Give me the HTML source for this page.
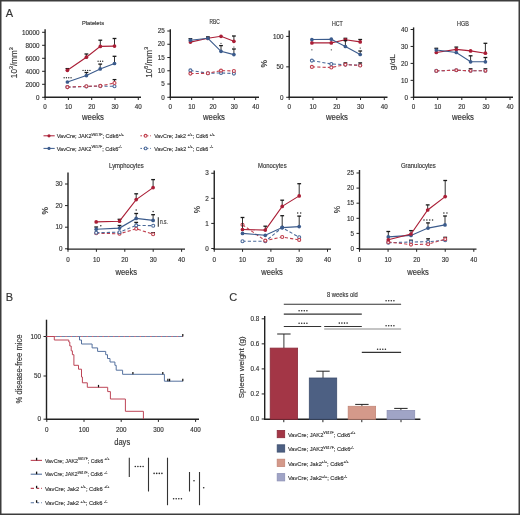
<!DOCTYPE html>
<html><head><meta charset="utf-8"><style>
html,body{margin:0;padding:0;background:#fff;}
svg{display:block;font-family:"Liberation Sans", sans-serif;}
text{stroke:#333;stroke-width:0.15px;paint-order:stroke;}
</style></head><body>
<svg width="520" height="515" viewBox="0 0 520 515" style="will-change:transform">
<rect x="0" y="0" width="520" height="515" fill="#fff"/>
<rect x="0.75" y="0.75" width="518.5" height="513.5" fill="none" stroke="#3c3c3c" stroke-width="1.5"/>
<line x1="45.1" y1="29.3" x2="45.1" y2="98.0" stroke="#222" stroke-width="1.4" />
<line x1="44.4" y1="97.3" x2="141" y2="97.3" stroke="#222" stroke-width="1.4" />
<line x1="42.1" y1="97.3" x2="45.1" y2="97.3" stroke="#222" stroke-width="1.0" />
<text x="39.5" y="99.5" font-size="6.3" text-anchor="end" fill="#333"  >0</text>
<line x1="42.1" y1="84.3" x2="45.1" y2="84.3" stroke="#222" stroke-width="1.0" />
<text x="39.5" y="86.5" font-size="6.3" text-anchor="end" fill="#333"  >2000</text>
<line x1="42.1" y1="71.3" x2="45.1" y2="71.3" stroke="#222" stroke-width="1.0" />
<text x="39.5" y="73.5" font-size="6.3" text-anchor="end" fill="#333"  >4000</text>
<line x1="42.1" y1="58.3" x2="45.1" y2="58.3" stroke="#222" stroke-width="1.0" />
<text x="39.5" y="60.5" font-size="6.3" text-anchor="end" fill="#333"  >6000</text>
<line x1="42.1" y1="45.3" x2="45.1" y2="45.3" stroke="#222" stroke-width="1.0" />
<text x="39.5" y="47.5" font-size="6.3" text-anchor="end" fill="#333"  >8000</text>
<line x1="42.1" y1="32.3" x2="45.1" y2="32.3" stroke="#222" stroke-width="1.0" />
<text x="39.5" y="34.5" font-size="6.3" text-anchor="end" fill="#333"  >10000</text>
<line x1="45.1" y1="97.3" x2="45.1" y2="100.0" stroke="#222" stroke-width="1.0" />
<text x="45.1" y="108.8" font-size="6.3" text-anchor="middle" fill="#333"  >0</text>
<line x1="68.4" y1="97.3" x2="68.4" y2="100.0" stroke="#222" stroke-width="1.0" />
<text x="68.4" y="108.8" font-size="6.3" text-anchor="middle" fill="#333"  >10</text>
<line x1="91.7" y1="97.3" x2="91.7" y2="100.0" stroke="#222" stroke-width="1.0" />
<text x="91.7" y="108.8" font-size="6.3" text-anchor="middle" fill="#333"  >20</text>
<line x1="115.0" y1="97.3" x2="115.0" y2="100.0" stroke="#222" stroke-width="1.0" />
<text x="115.0" y="108.8" font-size="6.3" text-anchor="middle" fill="#333"  >30</text>
<line x1="138.3" y1="97.3" x2="138.3" y2="100.0" stroke="#222" stroke-width="1.0" />
<text x="138.3" y="108.8" font-size="6.3" text-anchor="middle" fill="#333"  >40</text>
<text x="93" y="24.5" font-size="6.1" text-anchor="middle" fill="#333" textLength="22" lengthAdjust="spacingAndGlyphs" >Platelets</text>
<text x="93.0" y="120.2" font-size="8.3" text-anchor="middle" fill="#333" textLength="22.0" lengthAdjust="spacingAndGlyphs" >weeks</text>
<text x="16.7" y="62.7" font-size="8.6" text-anchor="middle" fill="#333" textLength="30.9" lengthAdjust="spacingAndGlyphs" transform="rotate(-90 16.7 62.7)">10<tspan dy="-3.3" font-size="5.6">3</tspan><tspan dy="3.3">/mm</tspan><tspan dy="-3.3" font-size="5.6">3</tspan></text>
<path d="M67.4,87.1 L86.4,86.5 L100.3,86.1 L114.5,86.3" fill="none" stroke="#4b6a9a" stroke-width="1.1" stroke-dasharray="3.2,2.1"/>
<circle cx="67.4" cy="87.1" r="1.5" fill="#fff" stroke="#4b6a9a" stroke-width="1.1"/>
<circle cx="86.4" cy="86.5" r="1.5" fill="#fff" stroke="#4b6a9a" stroke-width="1.1"/>
<circle cx="100.3" cy="86.1" r="1.5" fill="#fff" stroke="#4b6a9a" stroke-width="1.1"/>
<circle cx="114.5" cy="86.3" r="1.5" fill="#fff" stroke="#4b6a9a" stroke-width="1.1"/>
<line x1="114.5" y1="83.0" x2="114.5" y2="79.6" stroke="#1a1a1a" stroke-width="0.9" />
<line x1="112.6" y1="79.6" x2="116.4" y2="79.6" stroke="#1a1a1a" stroke-width="1.3" />
<path d="M67.4,87.1 L86.4,86.3 L100.3,85.9 L114.5,83.0" fill="none" stroke="#c0414f" stroke-width="1.1" stroke-dasharray="3.2,2.1"/>
<circle cx="67.4" cy="87.1" r="1.5" fill="#fff" stroke="#c0414f" stroke-width="1.1"/>
<circle cx="86.4" cy="86.3" r="1.5" fill="#fff" stroke="#c0414f" stroke-width="1.1"/>
<circle cx="100.3" cy="85.9" r="1.5" fill="#fff" stroke="#c0414f" stroke-width="1.1"/>
<circle cx="114.5" cy="83.0" r="1.5" fill="#fff" stroke="#c0414f" stroke-width="1.1"/>
<line x1="86.4" y1="75.6" x2="86.4" y2="72.5" stroke="#1a1a1a" stroke-width="0.9" />
<line x1="84.5" y1="72.5" x2="88.30000000000001" y2="72.5" stroke="#1a1a1a" stroke-width="1.3" />
<line x1="100.2" y1="68.9" x2="100.2" y2="64.1" stroke="#1a1a1a" stroke-width="0.9" />
<line x1="98.3" y1="64.1" x2="102.10000000000001" y2="64.1" stroke="#1a1a1a" stroke-width="1.3" />
<line x1="114.5" y1="63.5" x2="114.5" y2="56.3" stroke="#1a1a1a" stroke-width="0.9" />
<line x1="112.6" y1="56.3" x2="116.4" y2="56.3" stroke="#1a1a1a" stroke-width="1.3" />
<path d="M67.4,82 L86.4,75.6 L100.2,68.9 L114.5,63.5" fill="none" stroke="#3b5b8c" stroke-width="1.1" />
<circle cx="67.4" cy="82" r="1.85" fill="#3b5b8c"/>
<circle cx="86.4" cy="75.6" r="1.85" fill="#3b5b8c"/>
<circle cx="100.2" cy="68.9" r="1.85" fill="#3b5b8c"/>
<circle cx="114.5" cy="63.5" r="1.85" fill="#3b5b8c"/>
<line x1="67.4" y1="70.3" x2="67.4" y2="68.6" stroke="#1a1a1a" stroke-width="0.9" />
<line x1="65.5" y1="68.6" x2="69.30000000000001" y2="68.6" stroke="#1a1a1a" stroke-width="1.3" />
<line x1="86.4" y1="57.2" x2="86.4" y2="54" stroke="#1a1a1a" stroke-width="0.9" />
<line x1="84.5" y1="54" x2="88.30000000000001" y2="54" stroke="#1a1a1a" stroke-width="1.3" />
<line x1="100.3" y1="46.4" x2="100.3" y2="40.2" stroke="#1a1a1a" stroke-width="0.9" />
<line x1="98.39999999999999" y1="40.2" x2="102.2" y2="40.2" stroke="#1a1a1a" stroke-width="1.3" />
<line x1="114.5" y1="46.1" x2="114.5" y2="38.5" stroke="#1a1a1a" stroke-width="0.9" />
<line x1="112.6" y1="38.5" x2="116.4" y2="38.5" stroke="#1a1a1a" stroke-width="1.3" />
<path d="M67.4,70.3 L86.4,57.2 L100.3,46.4 L114.5,46.1" fill="none" stroke="#aa1e36" stroke-width="1.1" />
<circle cx="67.4" cy="70.3" r="1.85" fill="#aa1e36"/>
<circle cx="86.4" cy="57.2" r="1.85" fill="#aa1e36"/>
<circle cx="100.3" cy="46.4" r="1.85" fill="#aa1e36"/>
<circle cx="114.5" cy="46.1" r="1.85" fill="#aa1e36"/>
<circle cx="64.15" cy="77.7" r="0.68" fill="#2a2a2a"/>
<circle cx="66.45" cy="77.7" r="0.68" fill="#2a2a2a"/>
<circle cx="68.75" cy="77.7" r="0.68" fill="#2a2a2a"/>
<circle cx="71.05" cy="77.7" r="0.68" fill="#2a2a2a"/>
<circle cx="83.05" cy="70.4" r="0.68" fill="#2a2a2a"/>
<circle cx="85.35" cy="70.4" r="0.68" fill="#2a2a2a"/>
<circle cx="87.65" cy="70.4" r="0.68" fill="#2a2a2a"/>
<circle cx="89.95" cy="70.4" r="0.68" fill="#2a2a2a"/>
<circle cx="98.1" cy="61.2" r="0.68" fill="#2a2a2a"/>
<circle cx="100.4" cy="61.2" r="0.68" fill="#2a2a2a"/>
<circle cx="102.7" cy="61.2" r="0.68" fill="#2a2a2a"/>
<line x1="170.3" y1="29.3" x2="170.3" y2="98.0" stroke="#222" stroke-width="1.4" />
<line x1="169.60000000000002" y1="97.3" x2="259" y2="97.3" stroke="#222" stroke-width="1.4" />
<line x1="167.3" y1="97.3" x2="170.3" y2="97.3" stroke="#222" stroke-width="1.0" />
<text x="164.70000000000002" y="99.5" font-size="6.3" text-anchor="end" fill="#333"  >0</text>
<line x1="167.3" y1="84.04" x2="170.3" y2="84.04" stroke="#222" stroke-width="1.0" />
<text x="164.70000000000002" y="86.24000000000001" font-size="6.3" text-anchor="end" fill="#333"  >5</text>
<line x1="167.3" y1="70.78" x2="170.3" y2="70.78" stroke="#222" stroke-width="1.0" />
<text x="164.70000000000002" y="72.98" font-size="6.3" text-anchor="end" fill="#333"  >10</text>
<line x1="167.3" y1="57.52" x2="170.3" y2="57.52" stroke="#222" stroke-width="1.0" />
<text x="164.70000000000002" y="59.720000000000006" font-size="6.3" text-anchor="end" fill="#333"  >15</text>
<line x1="167.3" y1="44.26" x2="170.3" y2="44.26" stroke="#222" stroke-width="1.0" />
<text x="164.70000000000002" y="46.46" font-size="6.3" text-anchor="end" fill="#333"  >20</text>
<line x1="167.3" y1="31.0" x2="170.3" y2="31.0" stroke="#222" stroke-width="1.0" />
<text x="164.70000000000002" y="33.2" font-size="6.3" text-anchor="end" fill="#333"  >25</text>
<line x1="170.3" y1="97.3" x2="170.3" y2="100.0" stroke="#222" stroke-width="1.0" />
<text x="170.3" y="108.8" font-size="6.3" text-anchor="middle" fill="#333"  >0</text>
<line x1="191.65" y1="97.3" x2="191.65" y2="100.0" stroke="#222" stroke-width="1.0" />
<text x="191.65" y="108.8" font-size="6.3" text-anchor="middle" fill="#333"  >10</text>
<line x1="213.0" y1="97.3" x2="213.0" y2="100.0" stroke="#222" stroke-width="1.0" />
<text x="213.0" y="108.8" font-size="6.3" text-anchor="middle" fill="#333"  >20</text>
<line x1="234.35" y1="97.3" x2="234.35" y2="100.0" stroke="#222" stroke-width="1.0" />
<text x="234.35" y="108.8" font-size="6.3" text-anchor="middle" fill="#333"  >30</text>
<line x1="255.7" y1="97.3" x2="255.7" y2="100.0" stroke="#222" stroke-width="1.0" />
<text x="255.7" y="108.8" font-size="6.3" text-anchor="middle" fill="#333"  >40</text>
<text x="214.6" y="23.8" font-size="6.4" text-anchor="middle" fill="#333" textLength="10.2" lengthAdjust="spacingAndGlyphs" >RBC</text>
<text x="214" y="120.2" font-size="8.3" text-anchor="middle" fill="#333" textLength="22.0" lengthAdjust="spacingAndGlyphs" >weeks</text>
<text x="151.6" y="62.3" font-size="8.6" text-anchor="middle" fill="#333" textLength="30.9" lengthAdjust="spacingAndGlyphs" transform="rotate(-90 151.6 62.3)">10<tspan dy="-3.3" font-size="5.6">6</tspan><tspan dy="3.3">/mm</tspan><tspan dy="-3.3" font-size="5.6">3</tspan></text>
<path d="M190.4,70.4 L207.9,73.3 L221,72.9 L233.9,73.6" fill="none" stroke="#4b6a9a" stroke-width="1.1" stroke-dasharray="3.2,2.1"/>
<circle cx="190.4" cy="70.4" r="1.5" fill="#fff" stroke="#4b6a9a" stroke-width="1.1"/>
<circle cx="207.9" cy="73.3" r="1.5" fill="#fff" stroke="#4b6a9a" stroke-width="1.1"/>
<circle cx="221" cy="72.9" r="1.5" fill="#fff" stroke="#4b6a9a" stroke-width="1.1"/>
<circle cx="233.9" cy="73.6" r="1.5" fill="#fff" stroke="#4b6a9a" stroke-width="1.1"/>
<path d="M190.4,73.6 L207.9,73.3 L221,70.6 L233.9,71.0" fill="none" stroke="#c0414f" stroke-width="1.1" stroke-dasharray="3.2,2.1"/>
<circle cx="190.4" cy="73.6" r="1.5" fill="#fff" stroke="#c0414f" stroke-width="1.1"/>
<circle cx="207.9" cy="73.3" r="1.5" fill="#fff" stroke="#c0414f" stroke-width="1.1"/>
<circle cx="221" cy="70.6" r="1.5" fill="#fff" stroke="#c0414f" stroke-width="1.1"/>
<circle cx="233.9" cy="71.0" r="1.5" fill="#fff" stroke="#c0414f" stroke-width="1.1"/>
<line x1="233.9" y1="41.3" x2="233.9" y2="36.0" stroke="#1a1a1a" stroke-width="0.9" />
<line x1="232.0" y1="36.0" x2="235.8" y2="36.0" stroke="#1a1a1a" stroke-width="1.3" />
<path d="M190.4,42.1 L207.9,38.3 L221,36.3 L233.9,41.3" fill="none" stroke="#aa1e36" stroke-width="1.1" />
<circle cx="190.4" cy="42.1" r="1.85" fill="#aa1e36"/>
<circle cx="207.9" cy="38.3" r="1.85" fill="#aa1e36"/>
<circle cx="221" cy="36.3" r="1.85" fill="#aa1e36"/>
<circle cx="233.9" cy="41.3" r="1.85" fill="#aa1e36"/>
<line x1="190.4" y1="40.2" x2="190.4" y2="38.7" stroke="#1a1a1a" stroke-width="0.9" />
<line x1="188.5" y1="38.7" x2="192.3" y2="38.7" stroke="#1a1a1a" stroke-width="1.3" />
<line x1="207.9" y1="38.3" x2="207.9" y2="36.9" stroke="#1a1a1a" stroke-width="0.9" />
<line x1="206.0" y1="36.9" x2="209.8" y2="36.9" stroke="#1a1a1a" stroke-width="1.3" />
<line x1="221" y1="51.3" x2="221" y2="45.6" stroke="#1a1a1a" stroke-width="0.9" />
<line x1="219.1" y1="45.6" x2="222.9" y2="45.6" stroke="#1a1a1a" stroke-width="1.3" />
<line x1="233.9" y1="54.6" x2="233.9" y2="49.0" stroke="#1a1a1a" stroke-width="0.9" />
<line x1="232.0" y1="49.0" x2="235.8" y2="49.0" stroke="#1a1a1a" stroke-width="1.3" />
<path d="M190.4,40.2 L207.9,38.3 L221,51.3 L233.9,54.6" fill="none" stroke="#3b5b8c" stroke-width="1.1" />
<circle cx="190.4" cy="40.2" r="1.85" fill="#3b5b8c"/>
<circle cx="207.9" cy="38.3" r="1.85" fill="#3b5b8c"/>
<circle cx="221" cy="51.3" r="1.85" fill="#3b5b8c"/>
<circle cx="233.9" cy="54.6" r="1.85" fill="#3b5b8c"/>
<circle cx="221.0" cy="43.3" r="0.62" fill="#2a2a2a"/>
<circle cx="233.9" cy="47" r="0.62" fill="#2a2a2a"/>
<line x1="289.2" y1="30.4" x2="289.2" y2="98.0" stroke="#222" stroke-width="1.4" />
<line x1="288.5" y1="97.3" x2="387.5" y2="97.3" stroke="#222" stroke-width="1.4" />
<line x1="286.2" y1="97.3" x2="289.2" y2="97.3" stroke="#222" stroke-width="1.0" />
<text x="283.59999999999997" y="99.5" font-size="6.3" text-anchor="end" fill="#333"  >0</text>
<line x1="286.2" y1="66.85" x2="289.2" y2="66.85" stroke="#222" stroke-width="1.0" />
<text x="283.59999999999997" y="69.05" font-size="6.3" text-anchor="end" fill="#333"  >50</text>
<line x1="286.2" y1="36.4" x2="289.2" y2="36.4" stroke="#222" stroke-width="1.0" />
<text x="283.59999999999997" y="38.6" font-size="6.3" text-anchor="end" fill="#333"  >100</text>
<line x1="289.2" y1="97.3" x2="289.2" y2="100.0" stroke="#222" stroke-width="1.0" />
<text x="289.2" y="108.8" font-size="6.3" text-anchor="middle" fill="#333"  >0</text>
<line x1="312.98" y1="97.3" x2="312.98" y2="100.0" stroke="#222" stroke-width="1.0" />
<text x="312.98" y="108.8" font-size="6.3" text-anchor="middle" fill="#333"  >10</text>
<line x1="336.75" y1="97.3" x2="336.75" y2="100.0" stroke="#222" stroke-width="1.0" />
<text x="336.75" y="108.8" font-size="6.3" text-anchor="middle" fill="#333"  >20</text>
<line x1="360.52" y1="97.3" x2="360.52" y2="100.0" stroke="#222" stroke-width="1.0" />
<text x="360.52" y="108.8" font-size="6.3" text-anchor="middle" fill="#333"  >30</text>
<line x1="384.3" y1="97.3" x2="384.3" y2="100.0" stroke="#222" stroke-width="1.0" />
<text x="384.3" y="108.8" font-size="6.3" text-anchor="middle" fill="#333"  >40</text>
<text x="337.3" y="25.7" font-size="6.4" text-anchor="middle" fill="#333" textLength="10.8" lengthAdjust="spacingAndGlyphs" >HCT</text>
<text x="337" y="120.2" font-size="8.3" text-anchor="middle" fill="#333" textLength="22.0" lengthAdjust="spacingAndGlyphs" >weeks</text>
<text x="266.9" y="63.7" font-size="8.4" text-anchor="middle" fill="#333" textLength="7.5" lengthAdjust="spacingAndGlyphs" transform="rotate(-90 266.9 63.7)">%</text>
<path d="M311.9,60.6 L331.3,64.0 L345.4,64.6 L360.2,65.3" fill="none" stroke="#4b6a9a" stroke-width="1.1" stroke-dasharray="3.2,2.1"/>
<circle cx="311.9" cy="60.6" r="1.5" fill="#fff" stroke="#4b6a9a" stroke-width="1.1"/>
<circle cx="331.3" cy="64.0" r="1.5" fill="#fff" stroke="#4b6a9a" stroke-width="1.1"/>
<circle cx="345.4" cy="64.6" r="1.5" fill="#fff" stroke="#4b6a9a" stroke-width="1.1"/>
<circle cx="360.2" cy="65.3" r="1.5" fill="#fff" stroke="#4b6a9a" stroke-width="1.1"/>
<line x1="345.4" y1="64.6" x2="345.4" y2="62.9" stroke="#1a1a1a" stroke-width="0.9" />
<line x1="343.5" y1="62.9" x2="347.29999999999995" y2="62.9" stroke="#1a1a1a" stroke-width="1.3" />
<line x1="360.2" y1="65.5" x2="360.2" y2="62.9" stroke="#1a1a1a" stroke-width="0.9" />
<line x1="358.3" y1="62.9" x2="362.09999999999997" y2="62.9" stroke="#1a1a1a" stroke-width="1.3" />
<path d="M311.9,66.9 L331.3,67.5 L345.4,64.6 L360.2,65.5" fill="none" stroke="#c0414f" stroke-width="1.1" stroke-dasharray="3.2,2.1"/>
<circle cx="311.9" cy="66.9" r="1.5" fill="#fff" stroke="#c0414f" stroke-width="1.1"/>
<circle cx="331.3" cy="67.5" r="1.5" fill="#fff" stroke="#c0414f" stroke-width="1.1"/>
<circle cx="345.4" cy="64.6" r="1.5" fill="#fff" stroke="#c0414f" stroke-width="1.1"/>
<circle cx="360.2" cy="65.5" r="1.5" fill="#fff" stroke="#c0414f" stroke-width="1.1"/>
<line x1="345.4" y1="39.8" x2="345.4" y2="38.3" stroke="#1a1a1a" stroke-width="0.9" />
<line x1="343.5" y1="38.3" x2="347.29999999999995" y2="38.3" stroke="#1a1a1a" stroke-width="1.3" />
<line x1="360.2" y1="41.9" x2="360.2" y2="39.5" stroke="#1a1a1a" stroke-width="0.9" />
<line x1="358.3" y1="39.5" x2="362.09999999999997" y2="39.5" stroke="#1a1a1a" stroke-width="1.3" />
<path d="M311.9,42.9 L331.3,42.9 L345.4,39.8 L360.2,41.9" fill="none" stroke="#aa1e36" stroke-width="1.1" />
<circle cx="311.9" cy="42.9" r="1.85" fill="#aa1e36"/>
<circle cx="331.3" cy="42.9" r="1.85" fill="#aa1e36"/>
<circle cx="345.4" cy="39.8" r="1.85" fill="#aa1e36"/>
<circle cx="360.2" cy="41.9" r="1.85" fill="#aa1e36"/>
<line x1="345.4" y1="46.5" x2="345.4" y2="40.5" stroke="#1a1a1a" stroke-width="0.9" />
<line x1="343.5" y1="40.5" x2="347.29999999999995" y2="40.5" stroke="#1a1a1a" stroke-width="1.3" />
<line x1="360.2" y1="54.5" x2="360.2" y2="51.0" stroke="#1a1a1a" stroke-width="0.9" />
<line x1="358.3" y1="51.0" x2="362.09999999999997" y2="51.0" stroke="#1a1a1a" stroke-width="1.3" />
<path d="M311.9,39.5 L331.3,39.2 L345.4,46.5 L360.2,54.5" fill="none" stroke="#3b5b8c" stroke-width="1.1" />
<circle cx="311.9" cy="39.5" r="1.85" fill="#3b5b8c"/>
<circle cx="331.3" cy="39.2" r="1.85" fill="#3b5b8c"/>
<circle cx="345.4" cy="46.5" r="1.85" fill="#3b5b8c"/>
<circle cx="360.2" cy="54.5" r="1.85" fill="#3b5b8c"/>
<circle cx="311.9" cy="49.8" r="0.62" fill="#2a2a2a"/>
<circle cx="331.3" cy="49.8" r="0.62" fill="#2a2a2a"/>
<circle cx="360.2" cy="48.1" r="0.62" fill="#2a2a2a"/>
<line x1="413.6" y1="27.4" x2="413.6" y2="98.0" stroke="#222" stroke-width="1.4" />
<line x1="412.90000000000003" y1="97.3" x2="513" y2="97.3" stroke="#222" stroke-width="1.4" />
<line x1="410.6" y1="97.3" x2="413.6" y2="97.3" stroke="#222" stroke-width="1.0" />
<text x="408.0" y="99.5" font-size="6.3" text-anchor="end" fill="#333"  >0</text>
<line x1="410.6" y1="80.35" x2="413.6" y2="80.35" stroke="#222" stroke-width="1.0" />
<text x="408.0" y="82.55" font-size="6.3" text-anchor="end" fill="#333"  >10</text>
<line x1="410.6" y1="63.4" x2="413.6" y2="63.4" stroke="#222" stroke-width="1.0" />
<text x="408.0" y="65.6" font-size="6.3" text-anchor="end" fill="#333"  >20</text>
<line x1="410.6" y1="46.45" x2="413.6" y2="46.45" stroke="#222" stroke-width="1.0" />
<text x="408.0" y="48.650000000000006" font-size="6.3" text-anchor="end" fill="#333"  >30</text>
<line x1="410.6" y1="29.5" x2="413.6" y2="29.5" stroke="#222" stroke-width="1.0" />
<text x="408.0" y="31.7" font-size="6.3" text-anchor="end" fill="#333"  >40</text>
<line x1="413.6" y1="97.3" x2="413.6" y2="100.0" stroke="#222" stroke-width="1.0" />
<text x="413.6" y="108.8" font-size="6.3" text-anchor="middle" fill="#333"  >0</text>
<line x1="437.7" y1="97.3" x2="437.7" y2="100.0" stroke="#222" stroke-width="1.0" />
<text x="437.7" y="108.8" font-size="6.3" text-anchor="middle" fill="#333"  >10</text>
<line x1="461.8" y1="97.3" x2="461.8" y2="100.0" stroke="#222" stroke-width="1.0" />
<text x="461.8" y="108.8" font-size="6.3" text-anchor="middle" fill="#333"  >20</text>
<line x1="485.9" y1="97.3" x2="485.9" y2="100.0" stroke="#222" stroke-width="1.0" />
<text x="485.9" y="108.8" font-size="6.3" text-anchor="middle" fill="#333"  >30</text>
<line x1="510.0" y1="97.3" x2="510.0" y2="100.0" stroke="#222" stroke-width="1.0" />
<text x="510.0" y="108.8" font-size="6.3" text-anchor="middle" fill="#333"  >40</text>
<text x="462.9" y="25.7" font-size="6.4" text-anchor="middle" fill="#333" textLength="11.8" lengthAdjust="spacingAndGlyphs" >HGB</text>
<text x="463" y="120.2" font-size="8.3" text-anchor="middle" fill="#333" textLength="22.0" lengthAdjust="spacingAndGlyphs" >weeks</text>
<text x="395.3" y="62.1" font-size="7.0" text-anchor="middle" fill="#333" textLength="16.2" lengthAdjust="spacingAndGlyphs" transform="rotate(-90 395.3 62.1)">g/dL</text>
<line x1="470.6" y1="70.8" x2="470.6" y2="68.8" stroke="#1a1a1a" stroke-width="0.9" />
<line x1="468.70000000000005" y1="68.8" x2="472.5" y2="68.8" stroke="#1a1a1a" stroke-width="1.3" />
<line x1="485.4" y1="70.8" x2="485.4" y2="68.8" stroke="#1a1a1a" stroke-width="0.9" />
<line x1="483.5" y1="68.8" x2="487.29999999999995" y2="68.8" stroke="#1a1a1a" stroke-width="1.3" />
<path d="M436.3,70.9 L456.3,70.2 L470.6,70.8 L485.4,70.8" fill="none" stroke="#4b6a9a" stroke-width="1.1" stroke-dasharray="3.2,2.1"/>
<circle cx="436.3" cy="70.9" r="1.5" fill="#fff" stroke="#4b6a9a" stroke-width="1.1"/>
<circle cx="456.3" cy="70.2" r="1.5" fill="#fff" stroke="#4b6a9a" stroke-width="1.1"/>
<circle cx="470.6" cy="70.8" r="1.5" fill="#fff" stroke="#4b6a9a" stroke-width="1.1"/>
<circle cx="485.4" cy="70.8" r="1.5" fill="#fff" stroke="#4b6a9a" stroke-width="1.1"/>
<path d="M436.3,70.9 L456.3,70.2 L470.6,70.8 L485.4,70.8" fill="none" stroke="#c0414f" stroke-width="1.1" stroke-dasharray="3.2,2.1"/>
<circle cx="436.3" cy="70.9" r="1.35" fill="#fff" stroke="#c0414f" stroke-width="1.1"/>
<circle cx="456.3" cy="70.2" r="1.35" fill="#fff" stroke="#c0414f" stroke-width="1.1"/>
<circle cx="470.6" cy="70.8" r="1.35" fill="#fff" stroke="#c0414f" stroke-width="1.1"/>
<circle cx="485.4" cy="70.8" r="1.35" fill="#fff" stroke="#c0414f" stroke-width="1.1"/>
<line x1="456.3" y1="49.4" x2="456.3" y2="47.1" stroke="#1a1a1a" stroke-width="0.9" />
<line x1="454.40000000000003" y1="47.1" x2="458.2" y2="47.1" stroke="#1a1a1a" stroke-width="1.3" />
<line x1="485.4" y1="53.2" x2="485.4" y2="43.3" stroke="#1a1a1a" stroke-width="0.9" />
<line x1="483.5" y1="43.3" x2="487.29999999999995" y2="43.3" stroke="#1a1a1a" stroke-width="1.3" />
<path d="M436.3,52.5 L456.3,49.4 L470.6,50.9 L485.4,53.2" fill="none" stroke="#aa1e36" stroke-width="1.1" />
<circle cx="436.3" cy="52.5" r="1.85" fill="#aa1e36"/>
<circle cx="456.3" cy="49.4" r="1.85" fill="#aa1e36"/>
<circle cx="470.6" cy="50.9" r="1.85" fill="#aa1e36"/>
<circle cx="485.4" cy="53.2" r="1.85" fill="#aa1e36"/>
<line x1="436.3" y1="50" x2="436.3" y2="48.3" stroke="#1a1a1a" stroke-width="0.9" />
<line x1="434.40000000000003" y1="48.3" x2="438.2" y2="48.3" stroke="#1a1a1a" stroke-width="1.3" />
<line x1="470.6" y1="61.8" x2="470.6" y2="55.8" stroke="#1a1a1a" stroke-width="0.9" />
<line x1="468.70000000000005" y1="55.8" x2="472.5" y2="55.8" stroke="#1a1a1a" stroke-width="1.3" />
<line x1="485.4" y1="61.8" x2="485.4" y2="57.5" stroke="#1a1a1a" stroke-width="0.9" />
<line x1="483.5" y1="57.5" x2="487.29999999999995" y2="57.5" stroke="#1a1a1a" stroke-width="1.3" />
<path d="M436.3,50 L456.3,52.5 L470.6,61.8 L485.4,61.8" fill="none" stroke="#3b5b8c" stroke-width="1.1" />
<circle cx="436.3" cy="50" r="1.85" fill="#3b5b8c"/>
<circle cx="456.3" cy="52.5" r="1.85" fill="#3b5b8c"/>
<circle cx="470.6" cy="61.8" r="1.85" fill="#3b5b8c"/>
<circle cx="485.4" cy="61.8" r="1.85" fill="#3b5b8c"/>
<line x1="68" y1="172.5" x2="68" y2="249.79999999999998" stroke="#222" stroke-width="1.4" />
<line x1="67.3" y1="249.1" x2="185" y2="249.1" stroke="#222" stroke-width="1.4" />
<line x1="65.0" y1="248.8" x2="68" y2="248.8" stroke="#222" stroke-width="1.0" />
<text x="62.4" y="251.0" font-size="6.3" text-anchor="end" fill="#333"  >0</text>
<line x1="65.0" y1="227.2" x2="68" y2="227.2" stroke="#222" stroke-width="1.0" />
<text x="62.4" y="229.39999999999998" font-size="6.3" text-anchor="end" fill="#333"  >10</text>
<line x1="65.0" y1="205.6" x2="68" y2="205.6" stroke="#222" stroke-width="1.0" />
<text x="62.4" y="207.79999999999998" font-size="6.3" text-anchor="end" fill="#333"  >20</text>
<line x1="65.0" y1="184.0" x2="68" y2="184.0" stroke="#222" stroke-width="1.0" />
<text x="62.4" y="186.2" font-size="6.3" text-anchor="end" fill="#333"  >30</text>
<line x1="68.0" y1="249.1" x2="68.0" y2="251.79999999999998" stroke="#222" stroke-width="1.0" />
<text x="68.0" y="261.5" font-size="6.3" text-anchor="middle" fill="#333"  >0</text>
<line x1="96.4" y1="249.1" x2="96.4" y2="251.79999999999998" stroke="#222" stroke-width="1.0" />
<text x="96.4" y="261.5" font-size="6.3" text-anchor="middle" fill="#333"  >10</text>
<line x1="124.8" y1="249.1" x2="124.8" y2="251.79999999999998" stroke="#222" stroke-width="1.0" />
<text x="124.8" y="261.5" font-size="6.3" text-anchor="middle" fill="#333"  >20</text>
<line x1="153.2" y1="249.1" x2="153.2" y2="251.79999999999998" stroke="#222" stroke-width="1.0" />
<text x="153.2" y="261.5" font-size="6.3" text-anchor="middle" fill="#333"  >30</text>
<line x1="181.6" y1="249.1" x2="181.6" y2="251.79999999999998" stroke="#222" stroke-width="1.0" />
<text x="181.6" y="261.5" font-size="6.3" text-anchor="middle" fill="#333"  >40</text>
<text x="126.4" y="167.9" font-size="6.6" text-anchor="middle" fill="#333" textLength="34.6" lengthAdjust="spacingAndGlyphs" >Lymphocytes</text>
<text x="126.3" y="275" font-size="8.3" text-anchor="middle" fill="#333" textLength="21.5" lengthAdjust="spacingAndGlyphs" >weeks</text>
<text x="47.9" y="210.8" font-size="8.4" text-anchor="middle" fill="#333" textLength="7.5" lengthAdjust="spacingAndGlyphs" transform="rotate(-90 47.9 210.8)">%</text>
<line x1="153.1" y1="234.2" x2="153.1" y2="232.7" stroke="#1a1a1a" stroke-width="0.9" />
<line x1="151.2" y1="232.7" x2="155.0" y2="232.7" stroke="#1a1a1a" stroke-width="1.3" />
<path d="M96.2,233.2 L119.5,233.8 L136.2,228.8 L153.1,234.2" fill="none" stroke="#c0414f" stroke-width="1.1" stroke-dasharray="3.2,2.1"/>
<circle cx="96.2" cy="233.2" r="1.5" fill="#fff" stroke="#c0414f" stroke-width="1.1"/>
<circle cx="119.5" cy="233.8" r="1.5" fill="#fff" stroke="#c0414f" stroke-width="1.1"/>
<circle cx="136.2" cy="228.8" r="1.5" fill="#fff" stroke="#c0414f" stroke-width="1.1"/>
<circle cx="153.1" cy="234.2" r="1.5" fill="#fff" stroke="#c0414f" stroke-width="1.1"/>
<line x1="136.2" y1="225.4" x2="136.2" y2="222.4" stroke="#1a1a1a" stroke-width="0.9" />
<line x1="134.29999999999998" y1="222.4" x2="138.1" y2="222.4" stroke="#1a1a1a" stroke-width="1.3" />
<path d="M96.2,232.7 L119.5,232.2 L136.2,225.4 L153.2,225.7" fill="none" stroke="#4b6a9a" stroke-width="1.1" stroke-dasharray="3.2,2.1"/>
<circle cx="96.2" cy="232.7" r="1.5" fill="#fff" stroke="#4b6a9a" stroke-width="1.1"/>
<circle cx="119.5" cy="232.2" r="1.5" fill="#fff" stroke="#4b6a9a" stroke-width="1.1"/>
<circle cx="136.2" cy="225.4" r="1.5" fill="#fff" stroke="#4b6a9a" stroke-width="1.1"/>
<circle cx="153.2" cy="225.7" r="1.5" fill="#fff" stroke="#4b6a9a" stroke-width="1.1"/>
<line x1="96.2" y1="229.2" x2="96.2" y2="227" stroke="#1a1a1a" stroke-width="0.9" />
<line x1="94.3" y1="227" x2="98.10000000000001" y2="227" stroke="#1a1a1a" stroke-width="1.3" />
<line x1="119.5" y1="228.1" x2="119.5" y2="225.5" stroke="#1a1a1a" stroke-width="0.9" />
<line x1="117.6" y1="225.5" x2="121.4" y2="225.5" stroke="#1a1a1a" stroke-width="1.3" />
<line x1="136.2" y1="218.4" x2="136.2" y2="213.5" stroke="#1a1a1a" stroke-width="0.9" />
<line x1="134.29999999999998" y1="213.5" x2="138.1" y2="213.5" stroke="#1a1a1a" stroke-width="1.3" />
<line x1="153.1" y1="220.4" x2="153.1" y2="214.7" stroke="#1a1a1a" stroke-width="0.9" />
<line x1="151.2" y1="214.7" x2="155.0" y2="214.7" stroke="#1a1a1a" stroke-width="1.3" />
<path d="M96.2,229.2 L119.5,228.1 L136.2,218.4 L153.1,220.4" fill="none" stroke="#3b5b8c" stroke-width="1.1" />
<circle cx="96.2" cy="229.2" r="1.85" fill="#3b5b8c"/>
<circle cx="119.5" cy="228.1" r="1.85" fill="#3b5b8c"/>
<circle cx="136.2" cy="218.4" r="1.85" fill="#3b5b8c"/>
<circle cx="153.1" cy="220.4" r="1.85" fill="#3b5b8c"/>
<line x1="119.5" y1="221.2" x2="119.5" y2="219.3" stroke="#1a1a1a" stroke-width="0.9" />
<line x1="117.6" y1="219.3" x2="121.4" y2="219.3" stroke="#1a1a1a" stroke-width="1.3" />
<line x1="136.2" y1="199.6" x2="136.2" y2="193.8" stroke="#1a1a1a" stroke-width="0.9" />
<line x1="134.29999999999998" y1="193.8" x2="138.1" y2="193.8" stroke="#1a1a1a" stroke-width="1.3" />
<line x1="153.1" y1="187.6" x2="153.1" y2="179.6" stroke="#1a1a1a" stroke-width="0.9" />
<line x1="151.2" y1="179.6" x2="155.0" y2="179.6" stroke="#1a1a1a" stroke-width="1.3" />
<path d="M96.2,221.9 L119.5,221.2 L136.2,199.6 L153.1,187.6" fill="none" stroke="#aa1e36" stroke-width="1.1" />
<circle cx="96.2" cy="221.9" r="1.85" fill="#aa1e36"/>
<circle cx="119.5" cy="221.2" r="1.85" fill="#aa1e36"/>
<circle cx="136.2" cy="199.6" r="1.85" fill="#aa1e36"/>
<circle cx="153.1" cy="187.6" r="1.85" fill="#aa1e36"/>
<circle cx="100.8" cy="225.8" r="0.75" fill="#2a2a2a"/>
<circle cx="136.2" cy="210.1" r="0.75" fill="#2a2a2a"/>
<circle cx="153.1" cy="211.5" r="0.75" fill="#2a2a2a"/>
<line x1="214.25" y1="170.5" x2="214.25" y2="249.79999999999998" stroke="#222" stroke-width="1.4" />
<line x1="213.55" y1="249.1" x2="331" y2="249.1" stroke="#222" stroke-width="1.4" />
<line x1="211.25" y1="248.5" x2="214.25" y2="248.5" stroke="#222" stroke-width="1.0" />
<text x="208.65" y="250.7" font-size="6.3" text-anchor="end" fill="#333"  >0</text>
<line x1="211.25" y1="223.42" x2="214.25" y2="223.42" stroke="#222" stroke-width="1.0" />
<text x="208.65" y="225.61999999999998" font-size="6.3" text-anchor="end" fill="#333"  >1</text>
<line x1="211.25" y1="198.33" x2="214.25" y2="198.33" stroke="#222" stroke-width="1.0" />
<text x="208.65" y="200.53" font-size="6.3" text-anchor="end" fill="#333"  >2</text>
<line x1="211.25" y1="173.25" x2="214.25" y2="173.25" stroke="#222" stroke-width="1.0" />
<text x="208.65" y="175.45" font-size="6.3" text-anchor="end" fill="#333"  >3</text>
<line x1="214.25" y1="249.1" x2="214.25" y2="251.79999999999998" stroke="#222" stroke-width="1.0" />
<text x="214.25" y="261.5" font-size="6.3" text-anchor="middle" fill="#333"  >0</text>
<line x1="242.56" y1="249.1" x2="242.56" y2="251.79999999999998" stroke="#222" stroke-width="1.0" />
<text x="242.56" y="261.5" font-size="6.3" text-anchor="middle" fill="#333"  >10</text>
<line x1="270.88" y1="249.1" x2="270.88" y2="251.79999999999998" stroke="#222" stroke-width="1.0" />
<text x="270.88" y="261.5" font-size="6.3" text-anchor="middle" fill="#333"  >20</text>
<line x1="299.19" y1="249.1" x2="299.19" y2="251.79999999999998" stroke="#222" stroke-width="1.0" />
<text x="299.19" y="261.5" font-size="6.3" text-anchor="middle" fill="#333"  >30</text>
<line x1="327.5" y1="249.1" x2="327.5" y2="251.79999999999998" stroke="#222" stroke-width="1.0" />
<text x="327.5" y="261.5" font-size="6.3" text-anchor="middle" fill="#333"  >40</text>
<text x="272.3" y="167.9" font-size="6.6" text-anchor="middle" fill="#333" textLength="28.6" lengthAdjust="spacingAndGlyphs" >Monocytes</text>
<text x="272" y="275" font-size="8.3" text-anchor="middle" fill="#333" textLength="21.5" lengthAdjust="spacingAndGlyphs" >weeks</text>
<text x="200.0" y="209.6" font-size="8.4" text-anchor="middle" fill="#333" textLength="7.2" lengthAdjust="spacingAndGlyphs" transform="rotate(-90 200.0 209.6)">%</text>
<path d="M242.5,241.3 L265.3,241.3 L282.2,227.6 L299.2,237.3" fill="none" stroke="#4b6a9a" stroke-width="1.1" stroke-dasharray="3.2,2.1"/>
<circle cx="242.5" cy="241.3" r="1.5" fill="#fff" stroke="#4b6a9a" stroke-width="1.1"/>
<circle cx="265.3" cy="241.3" r="1.5" fill="#fff" stroke="#4b6a9a" stroke-width="1.1"/>
<circle cx="282.2" cy="227.6" r="1.5" fill="#fff" stroke="#4b6a9a" stroke-width="1.1"/>
<circle cx="299.2" cy="237.3" r="1.5" fill="#fff" stroke="#4b6a9a" stroke-width="1.1"/>
<path d="M242.5,224.8 L265.3,240.6 L282.2,237 L299.2,239.9" fill="none" stroke="#c0414f" stroke-width="1.1" stroke-dasharray="3.2,2.1"/>
<circle cx="242.5" cy="224.8" r="1.5" fill="#fff" stroke="#c0414f" stroke-width="1.1"/>
<circle cx="265.3" cy="240.6" r="1.5" fill="#fff" stroke="#c0414f" stroke-width="1.1"/>
<circle cx="282.2" cy="237" r="1.5" fill="#fff" stroke="#c0414f" stroke-width="1.1"/>
<circle cx="299.2" cy="239.9" r="1.5" fill="#fff" stroke="#c0414f" stroke-width="1.1"/>
<line x1="242.5" y1="229.5" x2="242.5" y2="217.5" stroke="#1a1a1a" stroke-width="0.9" />
<line x1="240.6" y1="217.5" x2="244.4" y2="217.5" stroke="#1a1a1a" stroke-width="1.3" />
<line x1="265.3" y1="230.1" x2="265.3" y2="226.2" stroke="#1a1a1a" stroke-width="0.9" />
<line x1="263.40000000000003" y1="226.2" x2="267.2" y2="226.2" stroke="#1a1a1a" stroke-width="1.3" />
<line x1="282.2" y1="206.4" x2="282.2" y2="200.2" stroke="#1a1a1a" stroke-width="0.9" />
<line x1="280.3" y1="200.2" x2="284.09999999999997" y2="200.2" stroke="#1a1a1a" stroke-width="1.3" />
<line x1="299.2" y1="195.9" x2="299.2" y2="183.7" stroke="#1a1a1a" stroke-width="0.9" />
<line x1="297.3" y1="183.7" x2="301.09999999999997" y2="183.7" stroke="#1a1a1a" stroke-width="1.3" />
<path d="M242.5,229.5 L265.3,230.1 L282.2,206.4 L299.2,195.9" fill="none" stroke="#aa1e36" stroke-width="1.1" />
<circle cx="242.5" cy="229.5" r="1.85" fill="#aa1e36"/>
<circle cx="265.3" cy="230.1" r="1.85" fill="#aa1e36"/>
<circle cx="282.2" cy="206.4" r="1.85" fill="#aa1e36"/>
<circle cx="299.2" cy="195.9" r="1.85" fill="#aa1e36"/>
<line x1="282.2" y1="227.6" x2="282.2" y2="215.7" stroke="#1a1a1a" stroke-width="0.9" />
<line x1="280.3" y1="215.7" x2="284.09999999999997" y2="215.7" stroke="#1a1a1a" stroke-width="1.3" />
<line x1="299.2" y1="226.6" x2="299.2" y2="216.1" stroke="#1a1a1a" stroke-width="0.9" />
<line x1="297.3" y1="216.1" x2="301.09999999999997" y2="216.1" stroke="#1a1a1a" stroke-width="1.3" />
<path d="M242.5,233.4 L265.3,235.3 L282.2,227.6 L299.2,226.6" fill="none" stroke="#3b5b8c" stroke-width="1.1" />
<circle cx="242.5" cy="233.4" r="1.85" fill="#3b5b8c"/>
<circle cx="265.3" cy="235.3" r="1.85" fill="#3b5b8c"/>
<circle cx="282.2" cy="227.6" r="1.85" fill="#3b5b8c"/>
<circle cx="299.2" cy="226.6" r="1.85" fill="#3b5b8c"/>
<circle cx="297.7" cy="212.9" r="0.75" fill="#2a2a2a"/>
<circle cx="300.7" cy="212.9" r="0.75" fill="#2a2a2a"/>
<line x1="359.5" y1="170" x2="359.5" y2="249.79999999999998" stroke="#222" stroke-width="1.4" />
<line x1="358.8" y1="249.1" x2="476.5" y2="249.1" stroke="#222" stroke-width="1.4" />
<line x1="356.5" y1="248.5" x2="359.5" y2="248.5" stroke="#222" stroke-width="1.0" />
<text x="353.9" y="250.7" font-size="6.3" text-anchor="end" fill="#333"  >0</text>
<line x1="356.5" y1="233.4" x2="359.5" y2="233.4" stroke="#222" stroke-width="1.0" />
<text x="353.9" y="235.6" font-size="6.3" text-anchor="end" fill="#333"  >5</text>
<line x1="356.5" y1="218.3" x2="359.5" y2="218.3" stroke="#222" stroke-width="1.0" />
<text x="353.9" y="220.5" font-size="6.3" text-anchor="end" fill="#333"  >10</text>
<line x1="356.5" y1="203.2" x2="359.5" y2="203.2" stroke="#222" stroke-width="1.0" />
<text x="353.9" y="205.39999999999998" font-size="6.3" text-anchor="end" fill="#333"  >15</text>
<line x1="356.5" y1="188.1" x2="359.5" y2="188.1" stroke="#222" stroke-width="1.0" />
<text x="353.9" y="190.29999999999998" font-size="6.3" text-anchor="end" fill="#333"  >20</text>
<line x1="356.5" y1="173.0" x2="359.5" y2="173.0" stroke="#222" stroke-width="1.0" />
<text x="353.9" y="175.2" font-size="6.3" text-anchor="end" fill="#333"  >25</text>
<line x1="359.5" y1="249.1" x2="359.5" y2="251.79999999999998" stroke="#222" stroke-width="1.0" />
<text x="359.5" y="261.5" font-size="6.3" text-anchor="middle" fill="#333"  >0</text>
<line x1="388.07" y1="249.1" x2="388.07" y2="251.79999999999998" stroke="#222" stroke-width="1.0" />
<text x="388.07" y="261.5" font-size="6.3" text-anchor="middle" fill="#333"  >10</text>
<line x1="416.65" y1="249.1" x2="416.65" y2="251.79999999999998" stroke="#222" stroke-width="1.0" />
<text x="416.65" y="261.5" font-size="6.3" text-anchor="middle" fill="#333"  >20</text>
<line x1="445.23" y1="249.1" x2="445.23" y2="251.79999999999998" stroke="#222" stroke-width="1.0" />
<text x="445.23" y="261.5" font-size="6.3" text-anchor="middle" fill="#333"  >30</text>
<line x1="473.8" y1="249.1" x2="473.8" y2="251.79999999999998" stroke="#222" stroke-width="1.0" />
<text x="473.8" y="261.5" font-size="6.3" text-anchor="middle" fill="#333"  >40</text>
<text x="418.4" y="167.9" font-size="6.6" text-anchor="middle" fill="#333" textLength="34.9" lengthAdjust="spacingAndGlyphs" >Granulocytes</text>
<text x="418" y="274.8" font-size="8.3" text-anchor="middle" fill="#333" textLength="21.5" lengthAdjust="spacingAndGlyphs" >weeks</text>
<text x="340.1" y="209.6" font-size="8.4" text-anchor="middle" fill="#333" textLength="7.3" lengthAdjust="spacingAndGlyphs" transform="rotate(-90 340.1 209.6)">%</text>
<line x1="411" y1="242" x2="411" y2="240.2" stroke="#1a1a1a" stroke-width="0.9" />
<line x1="409.1" y1="240.2" x2="412.9" y2="240.2" stroke="#1a1a1a" stroke-width="1.3" />
<line x1="428.1" y1="241.7" x2="428.1" y2="238.8" stroke="#1a1a1a" stroke-width="0.9" />
<line x1="426.20000000000005" y1="238.8" x2="430.0" y2="238.8" stroke="#1a1a1a" stroke-width="1.3" />
<line x1="445.2" y1="240.2" x2="445.2" y2="237.3" stroke="#1a1a1a" stroke-width="0.9" />
<line x1="443.3" y1="237.3" x2="447.09999999999997" y2="237.3" stroke="#1a1a1a" stroke-width="1.3" />
<path d="M388.3,242.7 L411,242 L428.1,241.7 L445.2,240.2" fill="none" stroke="#4b6a9a" stroke-width="1.1" stroke-dasharray="3.2,2.1"/>
<circle cx="388.3" cy="242.7" r="1.5" fill="#fff" stroke="#4b6a9a" stroke-width="1.1"/>
<circle cx="411" cy="242" r="1.5" fill="#fff" stroke="#4b6a9a" stroke-width="1.1"/>
<circle cx="428.1" cy="241.7" r="1.5" fill="#fff" stroke="#4b6a9a" stroke-width="1.1"/>
<circle cx="445.2" cy="240.2" r="1.5" fill="#fff" stroke="#4b6a9a" stroke-width="1.1"/>
<path d="M388.3,242 L411,244.6 L428.1,244.2 L445.2,239.1" fill="none" stroke="#c0414f" stroke-width="1.1" stroke-dasharray="3.2,2.1"/>
<circle cx="388.3" cy="242" r="1.5" fill="#fff" stroke="#c0414f" stroke-width="1.1"/>
<circle cx="411" cy="244.6" r="1.5" fill="#fff" stroke="#c0414f" stroke-width="1.1"/>
<circle cx="428.1" cy="244.2" r="1.5" fill="#fff" stroke="#c0414f" stroke-width="1.1"/>
<circle cx="445.2" cy="239.1" r="1.5" fill="#fff" stroke="#c0414f" stroke-width="1.1"/>
<line x1="388.3" y1="236.9" x2="388.3" y2="231.5" stroke="#1a1a1a" stroke-width="0.9" />
<line x1="386.40000000000003" y1="231.5" x2="390.2" y2="231.5" stroke="#1a1a1a" stroke-width="1.3" />
<line x1="428" y1="228.1" x2="428" y2="222.9" stroke="#1a1a1a" stroke-width="0.9" />
<line x1="426.1" y1="222.9" x2="429.9" y2="222.9" stroke="#1a1a1a" stroke-width="1.3" />
<line x1="445" y1="224.9" x2="445" y2="216.0" stroke="#1a1a1a" stroke-width="0.9" />
<line x1="443.1" y1="216.0" x2="446.9" y2="216.0" stroke="#1a1a1a" stroke-width="1.3" />
<path d="M388.3,236.9 L411,235.4 L428,228.1 L445,224.9" fill="none" stroke="#3b5b8c" stroke-width="1.1" />
<circle cx="388.3" cy="236.9" r="1.85" fill="#3b5b8c"/>
<circle cx="411" cy="235.4" r="1.85" fill="#3b5b8c"/>
<circle cx="428" cy="228.1" r="1.85" fill="#3b5b8c"/>
<circle cx="445" cy="224.9" r="1.85" fill="#3b5b8c"/>
<line x1="411" y1="234" x2="411" y2="230.6" stroke="#1a1a1a" stroke-width="0.9" />
<line x1="409.1" y1="230.6" x2="412.9" y2="230.6" stroke="#1a1a1a" stroke-width="1.3" />
<line x1="427.7" y1="210" x2="427.7" y2="204.9" stroke="#1a1a1a" stroke-width="0.9" />
<line x1="425.8" y1="204.9" x2="429.59999999999997" y2="204.9" stroke="#1a1a1a" stroke-width="1.3" />
<line x1="445.2" y1="196.6" x2="445.2" y2="180.5" stroke="#1a1a1a" stroke-width="0.9" />
<line x1="443.3" y1="180.5" x2="447.09999999999997" y2="180.5" stroke="#1a1a1a" stroke-width="1.3" />
<path d="M388.3,239.8 L411,234 L427.7,210 L445.2,196.6" fill="none" stroke="#aa1e36" stroke-width="1.1" />
<circle cx="388.3" cy="239.8" r="1.85" fill="#aa1e36"/>
<circle cx="411" cy="234" r="1.85" fill="#aa1e36"/>
<circle cx="427.7" cy="210" r="1.85" fill="#aa1e36"/>
<circle cx="445.2" cy="196.6" r="1.85" fill="#aa1e36"/>
<circle cx="424.03" cy="220" r="0.75" fill="#2a2a2a"/>
<circle cx="426.88" cy="220" r="0.75" fill="#2a2a2a"/>
<circle cx="429.73" cy="220" r="0.75" fill="#2a2a2a"/>
<circle cx="432.58" cy="220" r="0.75" fill="#2a2a2a"/>
<circle cx="443.85" cy="212.9" r="0.75" fill="#2a2a2a"/>
<circle cx="446.95" cy="212.9" r="0.75" fill="#2a2a2a"/>
<line x1="158.3" y1="217.2" x2="158.3" y2="226.8" stroke="#333" stroke-width="1.1" />
<text x="159.9" y="223.8" font-size="6.8" text-anchor="start" fill="#333" textLength="7.9" lengthAdjust="spacingAndGlyphs" >n.s.</text>
<line x1="43.5" y1="135.8" x2="54.7" y2="135.8" stroke="#aa1e36" stroke-width="1.0" />
<circle cx="49" cy="135.8" r="1.6" fill="#aa1e36"/>
<text x="56.8" y="138.0" font-size="5.8" fill="#333" textLength="67.2" lengthAdjust="spacingAndGlyphs">VavCre; JAK2<tspan dy="-2.2" font-size="3.8">V617F</tspan><tspan dy="2.2">; Cdk6</tspan><tspan dy="-2.2" font-size="3.8">+/+</tspan></text>
<line x1="43.5" y1="148.4" x2="54.7" y2="148.4" stroke="#3b5b8c" stroke-width="1.0" />
<circle cx="49" cy="148.4" r="1.6" fill="#3b5b8c"/>
<text x="56.8" y="150.6" font-size="5.8" fill="#333" textLength="65" lengthAdjust="spacingAndGlyphs">VavCre; JAK2<tspan dy="-2.2" font-size="3.8">V617F</tspan><tspan dy="2.2">; Cdk6</tspan><tspan dy="-2.2" font-size="3.8">-/-</tspan></text>
<line x1="140.4" y1="135.8" x2="150.8" y2="135.8" stroke="#c0414f" stroke-width="1.0" stroke-dasharray="1.6,1.6"/>
<circle cx="145.6" cy="135.8" r="1.4" fill="#fff" stroke="#c0414f" stroke-width="1.1"/>
<text x="154.2" y="138.0" font-size="5.8" fill="#333" textLength="60.6" lengthAdjust="spacingAndGlyphs">VavCre; Jak2 <tspan dy="-2.2" font-size="3.8">+/+</tspan><tspan dy="2.2">; Cdk6 </tspan><tspan dy="-2.2" font-size="3.8">+/+</tspan></text>
<line x1="140.4" y1="148.4" x2="150.8" y2="148.4" stroke="#4b6a9a" stroke-width="1.0" stroke-dasharray="1.6,1.6"/>
<circle cx="145.6" cy="148.4" r="1.4" fill="#fff" stroke="#4b6a9a" stroke-width="1.1"/>
<text x="154.2" y="150.6" font-size="5.8" fill="#333" textLength="59" lengthAdjust="spacingAndGlyphs">VavCre; Jak2 <tspan dy="-2.2" font-size="3.8">+/+</tspan><tspan dy="2.2">; Cdk6 </tspan><tspan dy="-2.2" font-size="3.8">-/-</tspan></text>
<text x="9.5" y="17.3" font-size="11" text-anchor="middle" fill="#333"  >A</text>
<text x="9.5" y="301.2" font-size="11" text-anchor="middle" fill="#333"  >B</text>
<text x="233.2" y="300.8" font-size="11" text-anchor="middle" fill="#333"  >C</text>
<line x1="46.5" y1="319.7" x2="46.5" y2="419.9" stroke="#222" stroke-width="1.4" />
<line x1="45.8" y1="419.2" x2="199" y2="419.2" stroke="#222" stroke-width="1.4" />
<line x1="43.5" y1="419.2" x2="46.5" y2="419.2" stroke="#222" stroke-width="1.0" />
<text x="41.0" y="421.4" font-size="6.3" text-anchor="end" fill="#333"  >0</text>
<line x1="43.5" y1="376.0" x2="46.5" y2="376.0" stroke="#222" stroke-width="1.0" />
<text x="41.0" y="378.2" font-size="6.3" text-anchor="end" fill="#333"  >50</text>
<line x1="43.5" y1="336.5" x2="46.5" y2="336.5" stroke="#222" stroke-width="1.0" />
<text x="41.0" y="338.7" font-size="6.3" text-anchor="end" fill="#333"  >100</text>
<line x1="46.8" y1="419.2" x2="46.8" y2="421.9" stroke="#222" stroke-width="1.0" />
<text x="46.8" y="431.8" font-size="6.3" text-anchor="middle" fill="#333"  >0</text>
<line x1="84.0" y1="419.2" x2="84.0" y2="421.9" stroke="#222" stroke-width="1.0" />
<text x="84.0" y="431.8" font-size="6.3" text-anchor="middle" fill="#333"  >100</text>
<line x1="121.2" y1="419.2" x2="121.2" y2="421.9" stroke="#222" stroke-width="1.0" />
<text x="121.2" y="431.8" font-size="6.3" text-anchor="middle" fill="#333"  >200</text>
<line x1="158.4" y1="419.2" x2="158.4" y2="421.9" stroke="#222" stroke-width="1.0" />
<text x="158.4" y="431.8" font-size="6.3" text-anchor="middle" fill="#333"  >300</text>
<line x1="195.6" y1="419.2" x2="195.6" y2="421.9" stroke="#222" stroke-width="1.0" />
<text x="195.6" y="431.8" font-size="6.3" text-anchor="middle" fill="#333"  >400</text>
<text x="122.2" y="444.8" font-size="8.6" text-anchor="middle" fill="#333" textLength="15.9" lengthAdjust="spacingAndGlyphs" >days</text>
<text x="22.1" y="369" font-size="8.4" text-anchor="middle" fill="#333" textLength="68.9" lengthAdjust="spacingAndGlyphs" transform="rotate(-90 22.1 369)">% disease-free mice</text>
<line x1="46.5" y1="336.5" x2="182.8" y2="336.5" stroke="#6d86ad" stroke-width="1.0" />
<line x1="46.5" y1="336.5" x2="182.8" y2="336.5" stroke="#e0666f" stroke-width="1.0" stroke-dasharray="1.4,3.9" stroke-dashoffset="-3"/>
<path d="M46.5,336.5 L54.3,336.5 L54.3,340 L68.8,340 L68.8,342 L69.8,342 L69.8,346 L71.2,346 L71.2,350.8 L72.4,350.8 L72.4,354.7 L73.9,354.7 L73.9,365.3 L78.5,365.3 L78.5,369.2 L81.5,369.2 L81.5,377 L82.4,377 L82.4,382.8 L87.3,382.8 L87.3,387.3 L107.7,387.3 L107.7,391.6 L110.4,391.6 L110.4,399.0 L125.4,399.0 L125.4,411.3 L143.4,411.3 L143.4,419.0" fill="none" stroke="#bd4557" stroke-width="1.0"/>
<path d="M79.5,336.5 L79.5,340 L81.5,340 L81.5,344 L92.1,344 L92.1,347.9 L97.6,347.9 L97.6,351.4 L105.7,351.4 L105.7,354.7 L107.5,354.7 L107.5,358.5 L110.0,358.5 L110.0,362.0 L114.9,362.0 L114.9,365.3 L116.2,365.3 L116.2,370.2 L122.6,370.2 L122.6,374.3 L164.4,374.3 L164.4,381.2 L182.8,381.2" fill="none" stroke="#56729f" stroke-width="1.0"/>
<line x1="182.8" y1="334.1" x2="182.8" y2="336.5" stroke="#111" stroke-width="1.2" />
<line x1="132.9" y1="371.90000000000003" x2="132.9" y2="374.3" stroke="#111" stroke-width="1.2" />
<line x1="162.8" y1="371.90000000000003" x2="162.8" y2="374.3" stroke="#111" stroke-width="1.2" />
<line x1="167.9" y1="378.8" x2="167.9" y2="381.2" stroke="#111" stroke-width="1.2" />
<line x1="169.6" y1="378.8" x2="169.6" y2="381.2" stroke="#111" stroke-width="1.2" />
<line x1="182.8" y1="378.8" x2="182.8" y2="381.2" stroke="#111" stroke-width="1.2" />
<line x1="98.5" y1="384.90000000000003" x2="98.5" y2="387.3" stroke="#111" stroke-width="1.2" />
<line x1="30.7" y1="460.4" x2="42" y2="460.4" stroke="#bd4557" stroke-width="1.1" />
<line x1="36.6" y1="457.79999999999995" x2="36.6" y2="460.4" stroke="#111" stroke-width="1.3" />
<text x="44.9" y="462.59999999999997" font-size="5.8" fill="#333" textLength="64.5" lengthAdjust="spacingAndGlyphs">VavCre; JAK2<tspan dy="-2.3" font-size="3.6">V617F</tspan><tspan dy="2.3">; Cdk6 </tspan><tspan dy="-2.3" font-size="3.6">+/+</tspan></text>
<line x1="30.7" y1="474.2" x2="42" y2="474.2" stroke="#56729f" stroke-width="1.1" />
<line x1="36.6" y1="471.59999999999997" x2="36.6" y2="474.2" stroke="#111" stroke-width="1.3" />
<text x="44.9" y="476.4" font-size="5.8" fill="#333" textLength="62.5" lengthAdjust="spacingAndGlyphs">VavCre; JAK2<tspan dy="-2.3" font-size="3.6">V617F</tspan><tspan dy="2.3">; Cdk6 </tspan><tspan dy="-2.3" font-size="3.6">-/-</tspan></text>
<line x1="30.7" y1="488.4" x2="42" y2="488.4" stroke="#bd4557" stroke-width="1.1" stroke-dasharray="3.3,3.0,2.2,1.8,0.8,10"/>
<line x1="36.6" y1="485.79999999999995" x2="36.6" y2="488.4" stroke="#111" stroke-width="1.3" />
<text x="44.9" y="490.59999999999997" font-size="5.8" fill="#333" textLength="64.5" lengthAdjust="spacingAndGlyphs">VavCre; Jak2 <tspan dy="-2.3" font-size="3.6">+/+</tspan><tspan dy="2.3">; Cdk6 </tspan><tspan dy="-2.3" font-size="3.6">+/+</tspan></text>
<line x1="30.7" y1="502.8" x2="42" y2="502.8" stroke="#56729f" stroke-width="1.1" stroke-dasharray="3.3,3.0,2.2,1.8,0.8,10"/>
<line x1="36.6" y1="500.2" x2="36.6" y2="502.8" stroke="#111" stroke-width="1.3" />
<text x="44.9" y="505.0" font-size="5.8" fill="#333" textLength="62.5" lengthAdjust="spacingAndGlyphs">VavCre; Jak2 <tspan dy="-2.3" font-size="3.6">+/+</tspan><tspan dy="2.3">; Cdk6 </tspan><tspan dy="-2.3" font-size="3.6">-/-</tspan></text>
<line x1="129.3" y1="457.7" x2="129.3" y2="476.9" stroke="#333" stroke-width="1.1" />
<line x1="148.5" y1="457.7" x2="148.5" y2="491.5" stroke="#333" stroke-width="1.1" />
<line x1="167.5" y1="457.7" x2="167.5" y2="505.2" stroke="#333" stroke-width="1.1" />
<line x1="189.5" y1="472" x2="189.5" y2="491.5" stroke="#333" stroke-width="1.1" />
<line x1="199.5" y1="472" x2="199.5" y2="505.2" stroke="#333" stroke-width="1.1" />
<circle cx="135.3" cy="466.5" r="0.8" fill="#2a2a2a"/>
<circle cx="137.9" cy="466.5" r="0.8" fill="#2a2a2a"/>
<circle cx="140.5" cy="466.5" r="0.8" fill="#2a2a2a"/>
<circle cx="143.1" cy="466.5" r="0.8" fill="#2a2a2a"/>
<circle cx="154.1" cy="473.4" r="0.8" fill="#2a2a2a"/>
<circle cx="156.7" cy="473.4" r="0.8" fill="#2a2a2a"/>
<circle cx="159.3" cy="473.4" r="0.8" fill="#2a2a2a"/>
<circle cx="161.9" cy="473.4" r="0.8" fill="#2a2a2a"/>
<circle cx="173.6" cy="498.8" r="0.8" fill="#2a2a2a"/>
<circle cx="176.2" cy="498.8" r="0.8" fill="#2a2a2a"/>
<circle cx="178.8" cy="498.8" r="0.8" fill="#2a2a2a"/>
<circle cx="181.4" cy="498.8" r="0.8" fill="#2a2a2a"/>
<circle cx="194.0" cy="480.7" r="0.8" fill="#2a2a2a"/>
<circle cx="203.7" cy="487.8" r="0.8" fill="#2a2a2a"/>
<line x1="264.7" y1="316" x2="264.7" y2="419.7" stroke="#222" stroke-width="1.4" />
<line x1="264.0" y1="419.3" x2="420.4" y2="419.3" stroke="#222" stroke-width="1.4" />
<line x1="261.7" y1="419.0" x2="264.7" y2="419.0" stroke="#222" stroke-width="1.0" />
<text x="259.3" y="421.2" font-size="6.3" text-anchor="end" fill="#333"  >0.0</text>
<line x1="261.7" y1="393.95" x2="264.7" y2="393.95" stroke="#222" stroke-width="1.0" />
<text x="259.3" y="396.15" font-size="6.3" text-anchor="end" fill="#333"  >0.2</text>
<line x1="261.7" y1="368.9" x2="264.7" y2="368.9" stroke="#222" stroke-width="1.0" />
<text x="259.3" y="371.09999999999997" font-size="6.3" text-anchor="end" fill="#333"  >0.4</text>
<line x1="261.7" y1="343.85" x2="264.7" y2="343.85" stroke="#222" stroke-width="1.0" />
<text x="259.3" y="346.05" font-size="6.3" text-anchor="end" fill="#333"  >0.6</text>
<line x1="261.7" y1="318.8" x2="264.7" y2="318.8" stroke="#222" stroke-width="1.0" />
<text x="259.3" y="321.0" font-size="6.3" text-anchor="end" fill="#333"  >0.8</text>
<line x1="283.8" y1="419" x2="283.8" y2="422.2" stroke="#222" stroke-width="1.0" />
<line x1="322.9" y1="419" x2="322.9" y2="422.2" stroke="#222" stroke-width="1.0" />
<line x1="361.8" y1="419" x2="361.8" y2="422.2" stroke="#222" stroke-width="1.0" />
<line x1="401.0" y1="419" x2="401.0" y2="422.2" stroke="#222" stroke-width="1.0" />
<text x="244.3" y="367.3" font-size="7.8" text-anchor="middle" fill="#333" textLength="61.9" lengthAdjust="spacingAndGlyphs" transform="rotate(-90 244.3 367.3)">Spleen weight (g)</text>
<line x1="283.9" y1="348.1" x2="283.9" y2="334.0" stroke="#222" stroke-width="0.9" />
<line x1="277.2" y1="334.0" x2="290.59999999999997" y2="334.0" stroke="#222" stroke-width="1.0" />
<rect x="270.2" y="348.1" width="27.4" height="71.1" fill="#a33646" stroke="#8b2a3a" stroke-width="0.8"/>
<line x1="323.0" y1="378.0" x2="323.0" y2="371.2" stroke="#222" stroke-width="0.9" />
<line x1="316.3" y1="371.2" x2="329.7" y2="371.2" stroke="#222" stroke-width="1.0" />
<rect x="309.3" y="378.0" width="27.4" height="41.2" fill="#4d6083" stroke="#3c4e6e" stroke-width="0.8"/>
<line x1="361.9" y1="406.3" x2="361.9" y2="404.4" stroke="#222" stroke-width="0.9" />
<line x1="355.2" y1="404.4" x2="368.59999999999997" y2="404.4" stroke="#222" stroke-width="1.0" />
<rect x="348.2" y="406.3" width="27.4" height="12.9" fill="#d4998a" stroke="#c48677" stroke-width="0.8"/>
<line x1="400.9" y1="410.4" x2="400.9" y2="408.4" stroke="#222" stroke-width="0.9" />
<line x1="394.2" y1="408.4" x2="407.59999999999997" y2="408.4" stroke="#222" stroke-width="1.0" />
<rect x="387.1" y="410.4" width="27.6" height="8.8" fill="#a0a4c6" stroke="#8e92b6" stroke-width="0.8"/>
<text x="342.4" y="296.5" font-size="6.6" text-anchor="middle" fill="#333" textLength="30.8" lengthAdjust="spacingAndGlyphs" >8 weeks old</text>
<line x1="283.8" y1="304.2" x2="401.1" y2="304.2" stroke="#333" stroke-width="1.15" />
<line x1="283.8" y1="314.1" x2="361.8" y2="314.1" stroke="#333" stroke-width="1.15" />
<line x1="283.8" y1="326.5" x2="321.2" y2="326.5" stroke="#333" stroke-width="1.15" />
<line x1="324.2" y1="326.5" x2="361.8" y2="326.5" stroke="#333" stroke-width="1.15" />
<line x1="324.2" y1="329.0" x2="401.1" y2="329.0" stroke="#8a8a8a" stroke-width="1.15" />
<line x1="361.8" y1="352.4" x2="401.1" y2="352.4" stroke="#333" stroke-width="1.15" />
<circle cx="386.1" cy="300.7" r="0.78" fill="#2a2a2a"/>
<circle cx="388.7" cy="300.7" r="0.78" fill="#2a2a2a"/>
<circle cx="391.3" cy="300.7" r="0.78" fill="#2a2a2a"/>
<circle cx="393.9" cy="300.7" r="0.78" fill="#2a2a2a"/>
<circle cx="299.1" cy="310.8" r="0.78" fill="#2a2a2a"/>
<circle cx="301.7" cy="310.8" r="0.78" fill="#2a2a2a"/>
<circle cx="304.3" cy="310.8" r="0.78" fill="#2a2a2a"/>
<circle cx="306.9" cy="310.8" r="0.78" fill="#2a2a2a"/>
<circle cx="299.1" cy="323.3" r="0.78" fill="#2a2a2a"/>
<circle cx="301.7" cy="323.3" r="0.78" fill="#2a2a2a"/>
<circle cx="304.3" cy="323.3" r="0.78" fill="#2a2a2a"/>
<circle cx="306.9" cy="323.3" r="0.78" fill="#2a2a2a"/>
<circle cx="339.3" cy="323.1" r="0.78" fill="#2a2a2a"/>
<circle cx="341.9" cy="323.1" r="0.78" fill="#2a2a2a"/>
<circle cx="344.5" cy="323.1" r="0.78" fill="#2a2a2a"/>
<circle cx="347.1" cy="323.1" r="0.78" fill="#2a2a2a"/>
<circle cx="386.1" cy="325.8" r="0.78" fill="#2a2a2a"/>
<circle cx="388.7" cy="325.8" r="0.78" fill="#2a2a2a"/>
<circle cx="391.3" cy="325.8" r="0.78" fill="#2a2a2a"/>
<circle cx="393.9" cy="325.8" r="0.78" fill="#2a2a2a"/>
<circle cx="377.6" cy="349.2" r="0.78" fill="#2a2a2a"/>
<circle cx="380.2" cy="349.2" r="0.78" fill="#2a2a2a"/>
<circle cx="382.8" cy="349.2" r="0.78" fill="#2a2a2a"/>
<circle cx="385.4" cy="349.2" r="0.78" fill="#2a2a2a"/>
<rect x="277.2" y="430.4" width="7.5" height="7.3" fill="#a33646" stroke="#8b2a3a" stroke-width="0.8"/>
<text x="287.9" y="436.7" font-size="5.8" fill="#333" textLength="67.5" lengthAdjust="spacingAndGlyphs">VavCre; JAK2<tspan dy="-2.3" font-size="3.6">V617F</tspan><tspan dy="2.3">; Cdk6</tspan><tspan dy="-2.3" font-size="3.6">+/+</tspan></text>
<rect x="277.2" y="444.8" width="7.5" height="7.3" fill="#4d6083" stroke="#3c4e6e" stroke-width="0.8"/>
<text x="287.9" y="451.1" font-size="5.8" fill="#333" textLength="65.8" lengthAdjust="spacingAndGlyphs">VavCre; JAK2<tspan dy="-2.3" font-size="3.6">V617F</tspan><tspan dy="2.3">; Cdk6</tspan><tspan dy="-2.3" font-size="3.6">-/-</tspan></text>
<rect x="277.2" y="459.2" width="7.5" height="7.3" fill="#d4998a" stroke="#c48677" stroke-width="0.8"/>
<text x="287.9" y="465.5" font-size="5.8" fill="#333" textLength="60.8" lengthAdjust="spacingAndGlyphs">VavCre; Jak2<tspan dy="-2.3" font-size="3.6">+/+</tspan><tspan dy="2.3">; Cdk6</tspan><tspan dy="-2.3" font-size="3.6">+/+</tspan></text>
<rect x="277.2" y="473.6" width="7.5" height="7.3" fill="#a0a4c6" stroke="#8e92b6" stroke-width="0.8"/>
<text x="287.9" y="479.9" font-size="5.8" fill="#333" textLength="59.3" lengthAdjust="spacingAndGlyphs">VavCre; Jak2<tspan dy="-2.3" font-size="3.6">+/+</tspan><tspan dy="2.3">; Cdk6</tspan><tspan dy="-2.3" font-size="3.6">-/-</tspan></text>
</svg>
</body></html>
